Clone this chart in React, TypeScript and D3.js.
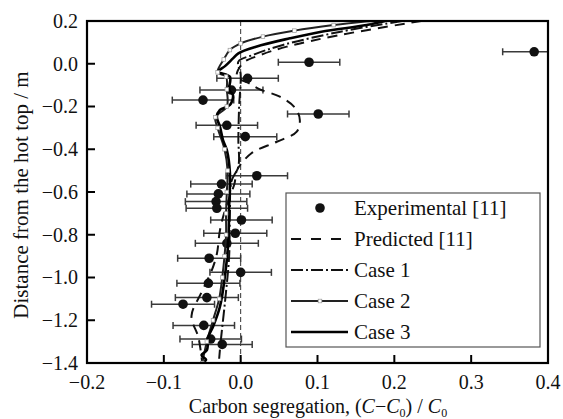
import React from 'react';
import * as d3 from 'd3';

// experimental points [11]: depth (m), segregation, half error bar
const expDepth = [0.056, 0.007, -0.068, -0.170, -0.123, -0.235, -0.288, -0.341, -0.524, -0.563, -0.609, -0.645,
  -0.676, -0.731, -0.793, -0.840, -0.910, -0.976, -1.027, -1.094, -1.125, -1.224, -1.288, -1.313];
const expValue = [0.382, 0.089, 0.009, -0.049, -0.012, 0.101, -0.018, 0.006, 0.021, -0.025, -0.029, -0.032,
  -0.031, 0.001, -0.007, -0.018, -0.041, 0.000, -0.042, -0.044, -0.075, -0.048, -0.039, -0.024];
const expError = [0.041, 0.04, 0.04, 0.04, 0.041, 0.04, 0.04, 0.041, 0.04, 0.04, 0.041, 0.04,
  0.04, 0.04, 0.041, 0.041, 0.041, 0.04, 0.041, 0.041, 0.041, 0.04, 0.04, 0.039];

// predicted [11]
const predDepth = [0.2, 0.135, 0.08, 0.04, 0.003, -0.06, -0.09, -0.12, -0.154, -0.207, -0.263, -0.318, -0.365,
  -0.419, -0.5, -0.56, -0.68, -0.78, -0.89, -0.97, -1.07, -1.18, -1.28, -1.4];
const predValue = [0.235, 0.13, 0.06, 0.025, 0.003, -0.005, 0.01, 0.025, 0.051, 0.071, 0.077, 0.073, 0.047,
  0.014, -0.005, -0.008, -0.02, -0.027, -0.031, -0.038, -0.051, -0.064, -0.055, -0.05];

// case 1
const case1Depth = [0.2, 0.15, 0.088, 0.04, 0.01, -0.05, -0.2, -0.35, -0.48, -0.55, -0.7, -0.9, -1.1, -1.3, -1.38];
const case1Value = [0.21, 0.13, 0.055, 0.015, -0.003, 0.0, -0.002, -0.003, -0.003, -0.012, -0.014, -0.015, -0.02,
  -0.026, -0.028];

// case 2
const case2Depth = [0.2, 0.181, 0.155, 0.127, 0.095, 0.064, 0.02, -0.04, -0.06, -0.12, -0.2, -0.25, -0.3, -0.4,
  -0.5, -0.6, -0.7, -0.8, -0.9, -1.0, -1.1, -1.2, -1.3, -1.4];
const case2Value = [0.168, 0.121, 0.07, 0.029, 0.0, -0.014, -0.022, -0.03, -0.019, -0.018, -0.018, -0.033, -0.03,
  -0.021, -0.017, -0.018, -0.019, -0.019, -0.021, -0.024, -0.028, -0.036, -0.044, -0.05];

// case 3
const case3Depth = [0.2, 0.181, 0.15, 0.119, 0.08, 0.049, 0.025, -0.01, -0.037, -0.061, -0.123, -0.146, -0.193,
  -0.216, -0.248, -0.294, -0.357, -0.404, -0.51, -0.669, -0.825, -0.98, -1.137, -1.23, -1.277, -1.34, -1.363,
  -1.385, -1.4];
const case3Value = [0.188, 0.164, 0.105, 0.064, 0.02, -0.003, -0.01, -0.02, -0.029, -0.014, -0.015, -0.010, -0.014,
  -0.027, -0.031, -0.027, -0.023, -0.018, -0.014, -0.015, -0.016, -0.02, -0.027, -0.036, -0.042, -0.044, -0.051,
  -0.045, -0.052];

const xTicks = [-0.2, -0.1, 0.0, 0.1, 0.2, 0.3, 0.4];
const yTicks = [0.2, 0.0, -0.2, -0.4, -0.6, -0.8, -1.0, -1.2, -1.4];
const legendLabels = ['Experimental [11]', 'Predicted [11]', 'Case 1', 'Case 2', 'Case 3'];

const FONT = '"Liberation Serif", "Times New Roman", "DejaVu Serif", serif';
const W = 563, H = 419;
const m = { left: 87, top: 21, right: 548, bottom: 363 };

const x = d3.scaleLinear().domain([-0.2, 0.4]).range([m.left, m.right]);
const y = d3.scaleLinear().domain([-1.4, 0.2]).range([m.bottom, m.top]);

const zip = (ds: number[], vs: number[]) => ds.map((d, i) => [vs[i], d] as [number, number]);
const line = d3.line<[number, number]>()
  .x(p => x(p[0]))
  .y(p => y(p[1]))
  .curve(d3.curveCatmullRom.alpha(0.5));

const fmt = (v: number) => d3.format('.1f')(v).replace('-', '\u2212');
const tx = { fontFamily: FONT, fill: '#111' };

export default function App() {
  const case2 = zip(case2Depth, case2Value);
  const legY = [208, 239, 270, 301, 332];
  const lx0 = 291, lx1 = 348;
  return (
    <svg width={W} height={H} style={{ position: 'absolute', left: 0, top: 0, background: '#fff', fontFamily: FONT }}>
      <defs>
        <clipPath id="plot">
          <rect x={m.left} y={m.top} width={m.right - m.left} height={m.bottom - m.top} />
        </clipPath>
      </defs>

      {/* zero line */}
      <line x1={x(0)} x2={x(0)} y1={m.top} y2={m.bottom} stroke="#333" strokeWidth={1} strokeDasharray="5,3" />

      <g clipPath="url(#plot)">
        {/* error bars */}
        {expDepth.map((d, i) => (
          <g key={'e' + i} stroke="#3a3a3a" strokeWidth={1.5}>
            <line x1={x(expValue[i] - expError[i])} x2={x(expValue[i] + expError[i])} y1={y(d)} y2={y(d)} />
            <line x1={x(expValue[i] - expError[i])} x2={x(expValue[i] - expError[i])} y1={y(d) - 3.5} y2={y(d) + 3.5} />
            <line x1={x(expValue[i] + expError[i])} x2={x(expValue[i] + expError[i])} y1={y(d) - 3.5} y2={y(d) + 3.5} />
          </g>
        ))}
        {expDepth.map((d, i) => (
          <circle key={'p' + i} cx={x(expValue[i])} cy={y(d)} r={4.8} fill="#111" />
        ))}

        <path d={line(zip(predDepth, predValue)) || ''} fill="none" stroke="#111" strokeWidth={2}
          strokeDasharray="10,7" />
        <path d={line(zip(case1Depth, case1Value)) || ''} fill="none" stroke="#111" strokeWidth={2}
          strokeDasharray="12,3,2,3" />
        <path d={line(case2) || ''} fill="none" stroke="#222" strokeWidth={2} />
        <path d={line(zip(case3Depth, case3Value)) || ''} fill="none" stroke="#000" strokeWidth={2.6} />
        {case2.map((p, i) => (
          <rect key={'m' + i} x={x(p[0]) - 1.8} y={y(p[1]) - 1.8} width={3.6} height={3.6}
            fill="#fff" stroke="#999" strokeWidth={0.7} />
        ))}
      </g>

      {/* frame */}
      <rect x={m.left} y={m.top} width={m.right - m.left} height={m.bottom - m.top} fill="none"
        stroke="#000" strokeWidth={2.2} />

      {/* ticks */}
      {yTicks.map(t => (
        <g key={'y' + t}>
          <line x1={m.left} x2={m.left + 8} y1={y(t)} y2={y(t)} stroke="#000" strokeWidth={2} />
          <text x={78} y={y(t)} dy="0.34em" textAnchor="end" fontSize={20} style={tx}>{fmt(t)}</text>
        </g>
      ))}
      {xTicks.map(t => (
        <g key={'x' + t}>
          <line x1={x(t)} x2={x(t)} y1={m.bottom} y2={m.bottom - 8} stroke="#000" strokeWidth={2} />
          <text x={x(t)} y={389} textAnchor="middle" fontSize={20} style={tx}>{fmt(t)}</text>
        </g>
      ))}

      {/* axis titles */}
      <text x={318} y={413} textAnchor="middle" fontSize={20} style={tx}>
        Carbon segregation, (<tspan fontStyle="italic">C</tspan>{'\u2212'}<tspan fontStyle="italic">C</tspan>
        <tspan fontSize={12} dy={4}>0</tspan><tspan dy={-4}>) / </tspan><tspan fontStyle="italic">C</tspan>
        <tspan fontSize={12} dy={4}>0</tspan>
      </text>
      <text transform={`translate(28,${195}) rotate(-90)`} textAnchor="middle" fontSize={21} style={tx}>
        Distance from the hot top / m
      </text>

      {/* legend */}
      <rect x={286} y={193} width={254} height={154} fill="#fff" stroke="#555" strokeWidth={1.2} />
      <circle cx={320} cy={legY[0]} r={4.8} fill="#111" />
      <line x1={lx0} x2={lx1} y1={legY[1]} y2={legY[1]} stroke="#111" strokeWidth={2} strokeDasharray="10,10" />
      <line x1={lx0} x2={lx1} y1={legY[2]} y2={legY[2]} stroke="#111" strokeWidth={2} strokeDasharray="12,3,2,3" />
      <line x1={lx0} x2={lx1} y1={legY[3]} y2={legY[3]} stroke="#222" strokeWidth={2} />
      <rect x={318.2} y={legY[3] - 1.8} width={3.6} height={3.6} fill="#fff" stroke="#999" strokeWidth={0.7} />
      <line x1={lx0} x2={lx1} y1={legY[4]} y2={legY[4]} stroke="#000" strokeWidth={2.6} />
      {legendLabels.map((l, i) => (
        <text key={l} x={354} y={legY[i]} dy="0.34em" fontSize={21} style={tx}>{l}</text>
      ))}
    </svg>
  );
}
